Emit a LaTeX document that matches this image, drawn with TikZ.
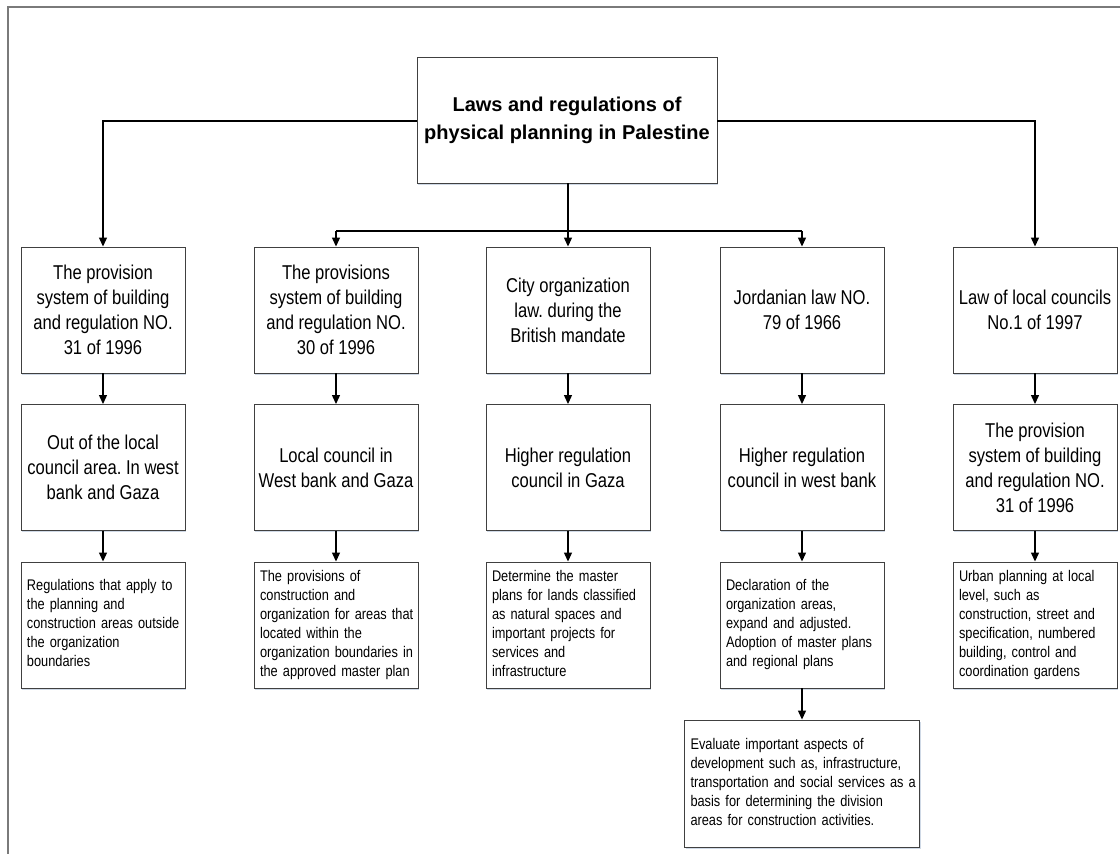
\documentclass[tikz,border=0pt]{standalone}
\usepackage{fontspec}
\setmainfont{Liberation Sans}
\newfontfamily\narrowfont[FakeStretch=0.83]{Liberation Sans}
\usetikzlibrary{arrows.meta,shadows}
\frenchspacing

\definecolor{boxline}{HTML}{404040}
\definecolor{framegray}{HTML}{7A7A7A}
\definecolor{shadowblue}{HTML}{CFD9E6}

% left-aligned block of lines that never rewraps
\newcommand{\lines}[1]{\begin{tabular}{@{}l@{}}#1\end{tabular}}

\tikzset{
  shadowed/.style={drop shadow={shadow xshift=1.2pt, shadow yshift=-1.8pt, fill=shadowblue, opacity=1}},
  basebox/.style={draw=boxline, line width=0.9pt, fill=white, shadowed, inner ysep=0pt},
  titlebox/.style={basebox, minimum width=300pt, minimum height=126pt, inner xsep=5pt,
    align=center, font=\fontsize{20}{28}\selectfont\bfseries},
  lawbox/.style={basebox, minimum width=164pt, minimum height=126pt, inner xsep=3pt,
    align=center, font=\narrowfont\fontsize{20}{25}\selectfont},
  notebox/.style={basebox, minimum width=164pt, minimum height=126pt, text width=152pt, inner xsep=6pt,
    align=left, font=\narrowfont\fontsize{15.4}{19}\selectfont},
  widenote/.style={notebox, minimum width=235pt, minimum height=127pt, text width=223pt},
  link/.style={line width=1.2pt, black},
  conn/.style={link, -{Triangle[length=9pt, width=8pt]}},
  frame/.style={draw=framegray, line width=1.4pt},
}

\begin{document}
\begin{tikzpicture}[x=1pt, y=-1pt]
  \useasboundingbox (0,0) rectangle (1120,854);

  % outer frame (open on the right and at the bottom)
  \coordinate (fb) at (8,860);
  \coordinate (fc) at (8,7);
  \coordinate (fr) at (1125,7);
  \draw[frame] (fb) -- (fc) -- (fr);

  % root
  \node[titlebox] (top) at (567,120)
    {Laws and regulations of\\physical planning in Palestine};

  % laws
  \node[lawbox] (l1) at (103,310) {The provision\\system of building\\and regulation NO.\\31 of 1996};
  \node[lawbox] (l2) at (336,310) {The provisions\\system of building\\and regulation NO.\\30 of 1996};
  \node[lawbox] (l3) at (568,310) {City organization\\law. during the\\British mandate};
  \node[lawbox] (l4) at (802,310) {Jordanian law NO.\\79 of 1966};
  \node[lawbox] (l5) at (1035,310) {Law of local councils\\No.1 of 1997};

  % competent bodies
  \node[lawbox] (b1) at (103,467.5) {Out of the local\\council area. In west\\bank and Gaza};
  \node[lawbox] (b2) at (336,467.5) {Local council in\\West bank and Gaza};
  \node[lawbox] (b3) at (568,467.5) {Higher regulation\\council in Gaza};
  \node[lawbox] (b4) at (802,467.5) {Higher regulation\\council in west bank};
  \node[lawbox] (b5) at (1035,467.5) {The provision\\system of building\\and regulation NO.\\31 of 1996};

  % scope
  \node[notebox] (s1) at (103,625) {\lines{Regulations that apply to\\the planning and\\construction areas outside\\the organization\\boundaries}};
  \node[notebox] (s2) at (336,625) {\lines{The provisions of\\construction and\\organization for areas that\\located within the\\organization boundaries in\\the approved master plan}};
  \node[notebox] (s3) at (568,625) {\lines{Determine the master\\plans for lands classified\\as natural spaces and\\important projects for\\services and\\infrastructure}};
  \node[notebox] (s4) at (802,625) {\lines{Declaration of the\\organization areas,\\expand and adjusted.\\Adoption of master plans\\and regional plans}};
  \node[notebox] (s5) at (1035,625) {\lines{Urban planning at local\\level, such as\\construction, street and\\specification, numbered\\building, control and\\coordination gardens}};

  \node[widenote] (e4) at (802,783.5) {\lines{Evaluate important aspects of\\development such as, infrastructure,\\transportation and social services as a\\basis for determining the division\\areas for construction activities.}};

  % root to the outer columns
  \draw[conn] (top.west |- 0,121) -| (l1.north);
  \draw[conn] (top.east |- 0,121) -| (l5.north);

  % root to the inner columns
  \coordinate (br) at (568,231);
  \draw[conn] (top.south -| l3.north) -- (l3.north);
  \draw[link] (l2.north |- br) -- (l4.north |- br);
  \draw[conn] (l2.north |- br) -- (l2.north);
  \draw[conn] (l4.north |- br) -- (l4.north);

  % down each column
  \foreach \i in {1,...,5} {
    \draw[conn] (l\i.south) -- (b\i.north);
    \draw[conn] (b\i.south) -- (s\i.north);
  }
  \draw[conn] (s4.south) -- (e4.north);
\end{tikzpicture}
\end{document}
